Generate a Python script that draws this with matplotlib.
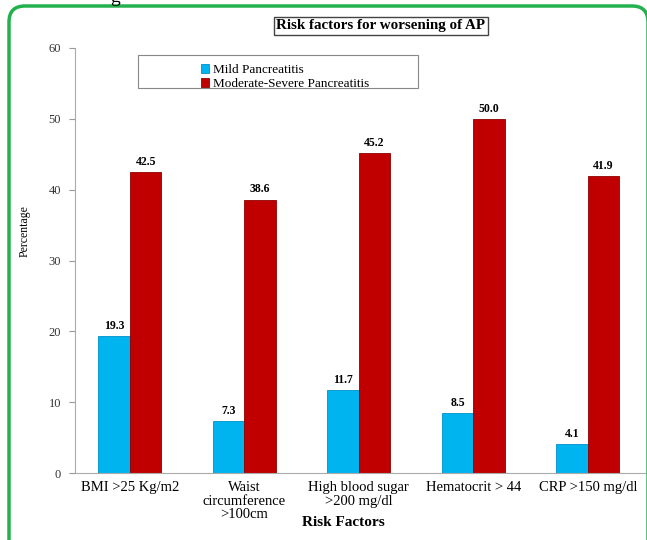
import numpy as np
import matplotlib.pyplot as plt
from matplotlib.patches import FancyBboxPatch, Rectangle

# data
categories = ['BMI >25 Kg/m2', 'Waist\ncircumference\n>100cm', 'High blood sugar\n>200 mg/dl',
              'Hematocrit > 44', 'CRP >150 mg/dl']
mild = [19.3, 7.3, 11.7, 8.5, 4.1]
severe = [42.5, 38.6, 45.2, 50.0, 41.9]
series_names = ['Mild Pancreatitis', 'Moderate-Severe Pancreatitis']
yticks = [0, 10, 20, 30, 40, 50, 60]

plt.rcParams['font.family'] = 'Liberation Serif'

W, H = 647, 540
fig = plt.figure(figsize=(W / 100, H / 100), dpi=100)
ax = fig.add_axes([75 / W, 67 / H, 570 / W, 425 / H])

x = np.arange(len(categories))
bw = 0.275
b1 = ax.bar(x - bw / 2, mild, bw, color='#00B4F0', edgecolor='#0090C8', linewidth=0.6,
            label=series_names[0])
b2 = ax.bar(x + bw / 2, severe, bw, color='#C00000', edgecolor='#900000', linewidth=0.6,
            label=series_names[1])

for bars in (b1, b2):
    for b in bars:
        ax.text(b.get_x() + b.get_width() / 2, b.get_height() + 0.6, '%.1f' % b.get_height(),
                ha='center', va='bottom', fontsize=8.5, fontweight='bold')

ax.set_xlim(-0.48, len(categories) - 0.5)
ax.set_ylim(0, 60)
ax.set_yticks(yticks)
ax.tick_params(axis='y', labelsize=9, length=4, color='#999999', pad=6, labelcolor='#333333')
ax.tick_params(axis='x', length=0, labelsize=10.5, pad=6)
ax.set_xticks(x)
ax.set_xticklabels(categories, linespacing=1.05)
for s in ['top', 'right']:
    ax.spines[s].set_visible(False)
for s in ['left', 'bottom']:
    ax.spines[s].set_color('#AAAAAA')

ax.set_ylabel('Percentage', fontsize=8.5)
ax.yaxis.set_label_coords(-0.078, 0.57)
fig.text(343 / W, 1 - 522 / H, 'Risk Factors', ha='center', va='center',
         fontsize=11, fontweight='bold')

# title in a box
fig.text(381 / W, 1 - 26 / H, 'Risk factors for worsening of AP', ha='center', va='center',
         fontsize=10.8, fontweight='bold',
         bbox=dict(boxstyle='square,pad=0.15', fc='white', ec='#444444', lw=1))

# legend box
fig.patches.append(Rectangle((138 / W, 1 - 88 / H), 280 / W, 33 / H, transform=fig.transFigure,
                             fill=False, ec='#888888', lw=0.8))
fig.legend(handles=[b1, b2], loc='upper left', bbox_to_anchor=(192 / W, 1 - 55 / H),
           frameon=False, fontsize=9.5, handlelength=0.6, handleheight=0.6,
           handletextpad=0.3, labelspacing=0.15, borderpad=0.2)

# green frame (pixel sized, in inches) and clipped text from the page
fig.patches.append(FancyBboxPatch((0.09, -0.3), 6.39, 5.64,
                                  boxstyle='round,pad=0,rounding_size=0.16',
                                  transform=fig.dpi_scale_trans, fill=False,
                                  ec='#22B14C', lw=2.5))
fig.text(115 / W, 1 + 2 / H, 'g', ha='center', va='center', fontsize=14)

fig.savefig('out.png', dpi=100)
